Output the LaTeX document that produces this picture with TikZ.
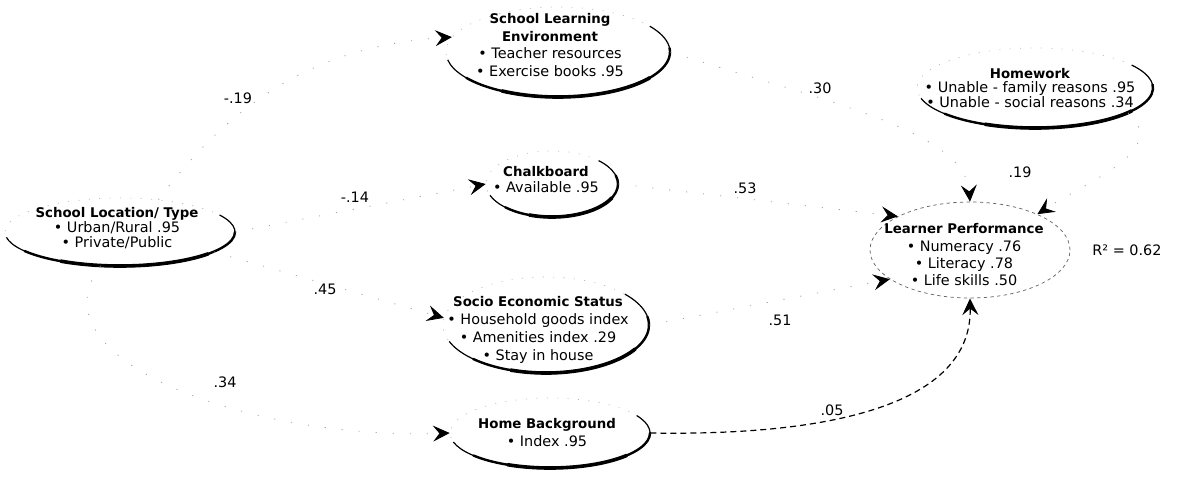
\documentclass[tikz,border=0pt]{standalone}
\usepackage{fontspec}
\setmainfont{DejaVu Sans}
\usetikzlibrary{arrows.meta,shapes.geometric}
\tikzset{
  txt/.style={align=center, inner sep=0pt, font=\fontsize{10.8}{12}\selectfont},
  lbl/.style={inner sep=0pt, font=\fontsize{10.8}{12}\selectfont},
  ellbox/.style={ellipse, inner sep=0pt, draw=black!28, line width=0.5pt, dash pattern=on 0.8pt off 7pt},
  lpbox/.style={ellipse, inner sep=0pt, draw=black!60, line width=0.55pt, dash pattern=on 2.5pt off 2.5pt},
  tipend/.style={-{Stealth[length=12.5pt,width=12pt,inset=4.8pt,color=black]}},
  conn/.style={tipend, draw=black!38, line width=0.6pt, dash pattern=on 0.8pt off 12pt},
  nsconn/.style={tipend, draw=black, line width=0.9pt, dash pattern=on 4.5pt off 3pt},
}
\newcommand{\ttl}[1]{{\fontsize{10}{12}\selectfont\bfseries #1}}
\newcommand{\rimarc}[5]{%
  \draw[line width=0.9pt] (#1.center) ++(#4:#2 and #3) arc[start angle=#4, end angle=#5, x radius=#2, y radius=#3];
  \pgfmathsetmacro\rimA{#4-25}\pgfmathsetmacro\rimB{#5+30}%
  \draw[line width=1.8pt, line cap=round] (#1.center) ++(\rimA:#2 and #3) arc[start angle=\rimA, end angle=\rimB, x radius=#2, y radius=#3];
  \pgfmathsetmacro\rimC{#4-50}\pgfmathsetmacro\rimD{#5+70}%
  \draw[line width=2.7pt, line cap=round] (#1.center) ++(\rimC:#2 and #3) arc[start angle=\rimC, end angle=\rimD, x radius=#2, y radius=#3];
}
\begin{document}
\begin{tikzpicture}[x=0.75pt, y=-0.75pt]
\useasboundingbox (0,0) rectangle (1184,494);
% ellipse outlines
\node[ellbox, minimum width=172.5pt, minimum height=51pt] (slE) at (120,232) {};
\node[ellbox, minimum width=168pt, minimum height=67.5pt] (sleE) at (558,52) {};
\node[ellbox, minimum width=99pt, minimum height=49.5pt] (chE) at (552,184) {};
\node[ellbox, minimum width=154.5pt, minimum height=72pt] (sesE) at (546,325) {};
\node[ellbox, minimum width=150pt, minimum height=52.5pt] (hbE) at (550,433) {};
\node[ellbox, minimum width=177pt, minimum height=60pt] (hwE) at (1035,88) {};
\node[lpbox, minimum width=150pt, minimum height=72pt] (lpE) at (970,250) {};
% bold rims
\rimarc{slE}{115}{34}{171}{-30}
\rimarc{sleE}{112}{45}{170}{-35}
\rimarc{chE}{66}{33}{160}{-45}
\rimarc{sesE}{103}{48}{160}{-40}
\rimarc{hbE}{100}{35}{165}{-30}
\rimarc{hwE}{118}{40}{165}{-35}
% texts
\node[txt, font=\fontsize{10.8}{11.5}\selectfont] (slT) at (117,228) {\ttl{School Location/ Type}\\• Urban/Rural .95\\• Private/Public};
\node[txt, font=\fontsize{10.8}{13.3}\selectfont] (sleT) at (550,45) {\ttl{School Learning}\\\ttl{Environment}\\• Teacher resources\\• Exercise books .95};
\node[txt, font=\fontsize{10.8}{12}\selectfont] (chT) at (546,180) {\ttl{Chalkboard}\\• Available .95};
\node[txt, font=\fontsize{10.8}{13.6}\selectfont] (sesT) at (538,330) {\ttl{Socio Economic Status}\\• Household goods index\\• Amenities index .29\\• Stay in house};
\node[txt, font=\fontsize{10.8}{13.5}\selectfont] (hbT) at (547,433) {\ttl{Home Background}\\• Index .95};
\node[txt, font=\fontsize{10.8}{11.2}\selectfont] (hwT) at (1030,88) {\ttl{Homework}\\• Unable - family reasons .95\\• Unable - social reasons .34};
\node[txt, font=\fontsize{10.8}{13}\selectfont] (lpT) at (964,255) {\ttl{Learner Performance}\\• Numeracy .76\\• Literacy .78\\• Life skills .50};
\node[lbl] (r2) at (1127,250) {R² = 0.62};
% connectors
\draw[conn] (slE.40) .. controls (240,90) and (330,45) .. (sleE.172);
\draw[conn] (slE.east) -- (chE.west);
\draw[conn] (slE.-12) -- (sesE.176);
\draw[conn] (slE.-120) .. controls (30,360) and (250,440) .. (hbE.west);
\draw[conn] (sleE.east) .. controls (820,100) and (965,130) .. (lpE.north);
\draw[conn] (chE.east) -- (lpE.155);
\draw[conn] (sesE.east) -- (lpE.200);
\draw[conn] (hwE.-15) .. controls (1170,150) and (1090,180) .. (lpE.28);
\draw[nsconn] (hbE.east) .. controls (830,436) and (972,405) .. (lpE.south);
% path labels
\node[lbl] (m19) at (238,98) {-.19};
\node[lbl] (m14) at (355,197) {-.14};
\node[lbl] (l45) at (325,289) {.45};
\node[lbl] (l34) at (225,382) {.34};
\node[lbl] (l30) at (820,88) {.30};
\node[lbl] (l53) at (745,188) {.53};
\node[lbl] (l51) at (780,320) {.51};
\node[lbl] (l19) at (1020,172) {.19};
\node[lbl] (l05) at (832,410) {.05};
\end{tikzpicture}
\end{document}
